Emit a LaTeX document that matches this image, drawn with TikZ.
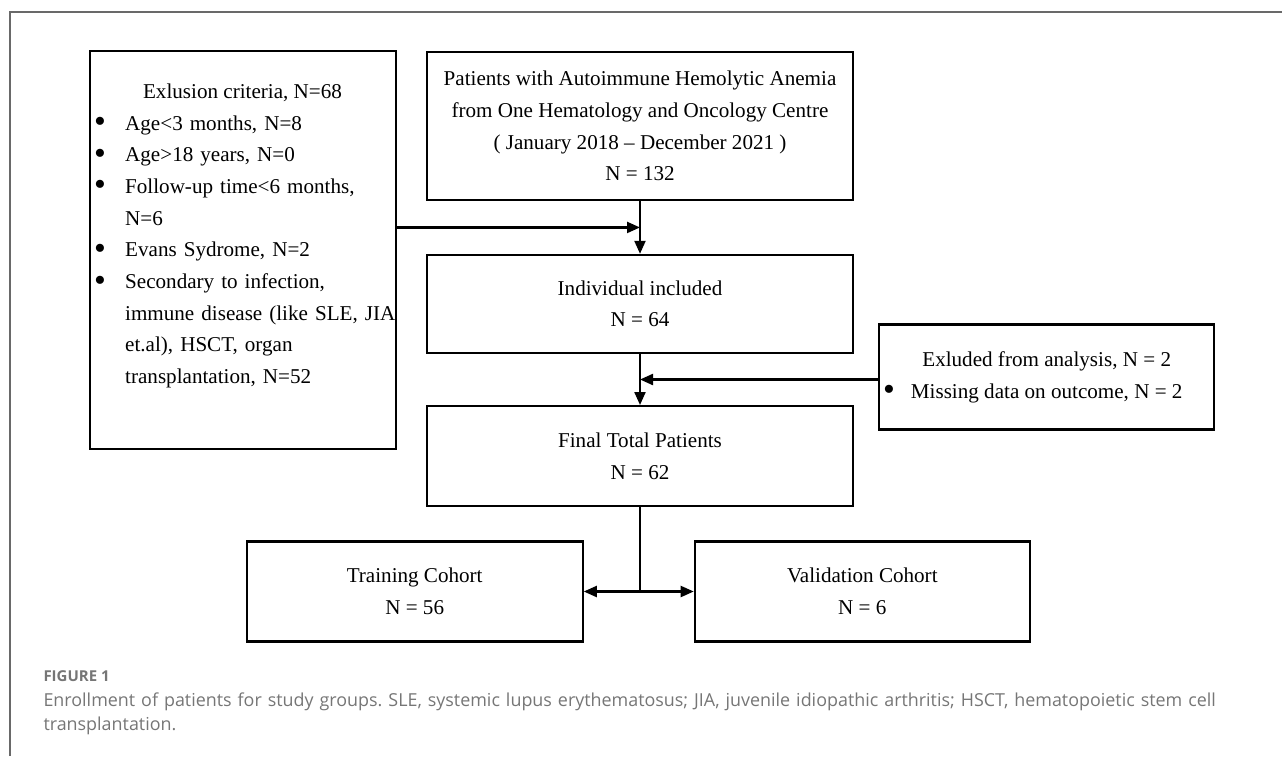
\documentclass[tikz,border=0pt]{standalone}
\usepackage{fontspec}
\setmainfont{Liberation Serif}
\newfontfamily\capfont{Open Sans}
\usetikzlibrary{positioning, arrows.meta, calc}
\usepackage{xcolor}
\definecolor{capgray}{RGB}{118,118,118}
\definecolor{framegray}{RGB}{105,105,105}
\newcommand{\bigdot}{\raisebox{-0.12em}{\scalebox{1.6}{\textbullet}}}
\newcommand{\itm}{\makebox[31pt][l]{\bigdot}}
\newcommand{\cont}{\makebox[31pt]{}}

\begin{document}
\begin{tikzpicture}[x=1pt, y=-1pt,
        box/.style={draw, line width=2.2pt, inner sep=0pt, align=center,
            font=\fontsize{21.1}{31.7}\selectfont},
        txt/.style={inner sep=0pt, font=\fontsize{21.1}{31.7}\selectfont},
        arr/.style={line width=2.2pt, -{Triangle[length=13pt, width=11pt]}},
        lin/.style={line width=2.2pt}]
            \useasboundingbox (0,0) rectangle (1282,756);
            \draw[framegray, line width=1.5pt] (10,756) -- (10,12) -- (1282,12);

            % main column
            \node[box, minimum width=426pt, minimum height=148pt] (pat) at (640,126)
                {Patients with Autoimmune Hemolytic Anemia\\from One Hematology and Oncology Centre\\( January 2018 -- December 2021 )\\N = 132};
            \node[box, minimum width=426pt, minimum height=98pt, below=52.7pt of pat] (incl)
                {Individual included\\N = 64};
            \node[box, minimum width=426pt, minimum height=100pt, below=51pt of incl] (final)
                {Final Total Patients\\N = 62};
            \node[box, minimum width=336pt, minimum height=100pt] (train) at (414.7,591.5)
                {Training Cohort\\N = 56};
            \node[box, minimum width=335pt, minimum height=100pt] (valid) at (862.3,591.5)
                {Validation Cohort\\N = 6};

            % exclusions
            \node[box, minimum width=306pt, minimum height=398pt] (excl) at (243,250.2) {};
            \node[txt, anchor=base] (excltitle) at (242.5,98) {Exlusion criteria, N=68};
            \node[txt, anchor=base west, text width=340pt, align=left] (excllist) at (94,130)
                {\itm Age<3 months, N=8\\
                 \itm Age>18 years, N=0\\
                 \itm Follow-up time<6 months,\\
                 \cont N=6\\
                 \itm Evans Sydrome, N=2\\
                 \itm Secondary to infection,\\
                 \cont immune disease (like SLE, JIA\\
                 \cont et.al), HSCT, organ\\
                 \cont transplantation, N=52};
            \node[box, minimum width=335pt, minimum height=105pt] (exd) at (1046.7,377)
                {Exluded from analysis, N = 2\\\makebox[0pt][r]{\bigdot\hspace{16pt}}Missing data on outcome, N = 2};

            \coordinate (j1) at ($(pat.south)!0.5!(incl.north)$);
            \coordinate (j2) at ($(incl.south)!0.5!(final.north)$);
            \coordinate (split) at (final.south |- train.east);

            \draw[arr] (pat) -- (incl);
            \draw[arr] (excl.east |- j1) -- (j1);
            \draw[arr] (incl) -- (final);
            \draw[arr] (exd.west |- j2) -- (j2);
            \draw[lin] (final) -- (split);
            \draw[arr] (split) -- (train);
            \draw[arr] (split) -- (valid);

            % caption
            \node[anchor=base west, inner sep=0pt, text=capgray,
                font={\capfont\bfseries\fontsize{15}{18}\selectfont}] (fig) at (43.3,681.7) {FIGURE 1};
            \node[anchor=base west, inner sep=0pt, text=capgray, text width=1230pt, align=left,
                font={\capfont\frenchspacing\fontsize{17.9}{24.7}\selectfont}] (cap) at (43.3,706)
                {Enrollment of patients for study groups. SLE, systemic lupus erythematosus; JIA, juvenile idiopathic arthritis; HSCT, hematopoietic stem cell\\transplantation.};
        \end{tikzpicture}
\end{document}
